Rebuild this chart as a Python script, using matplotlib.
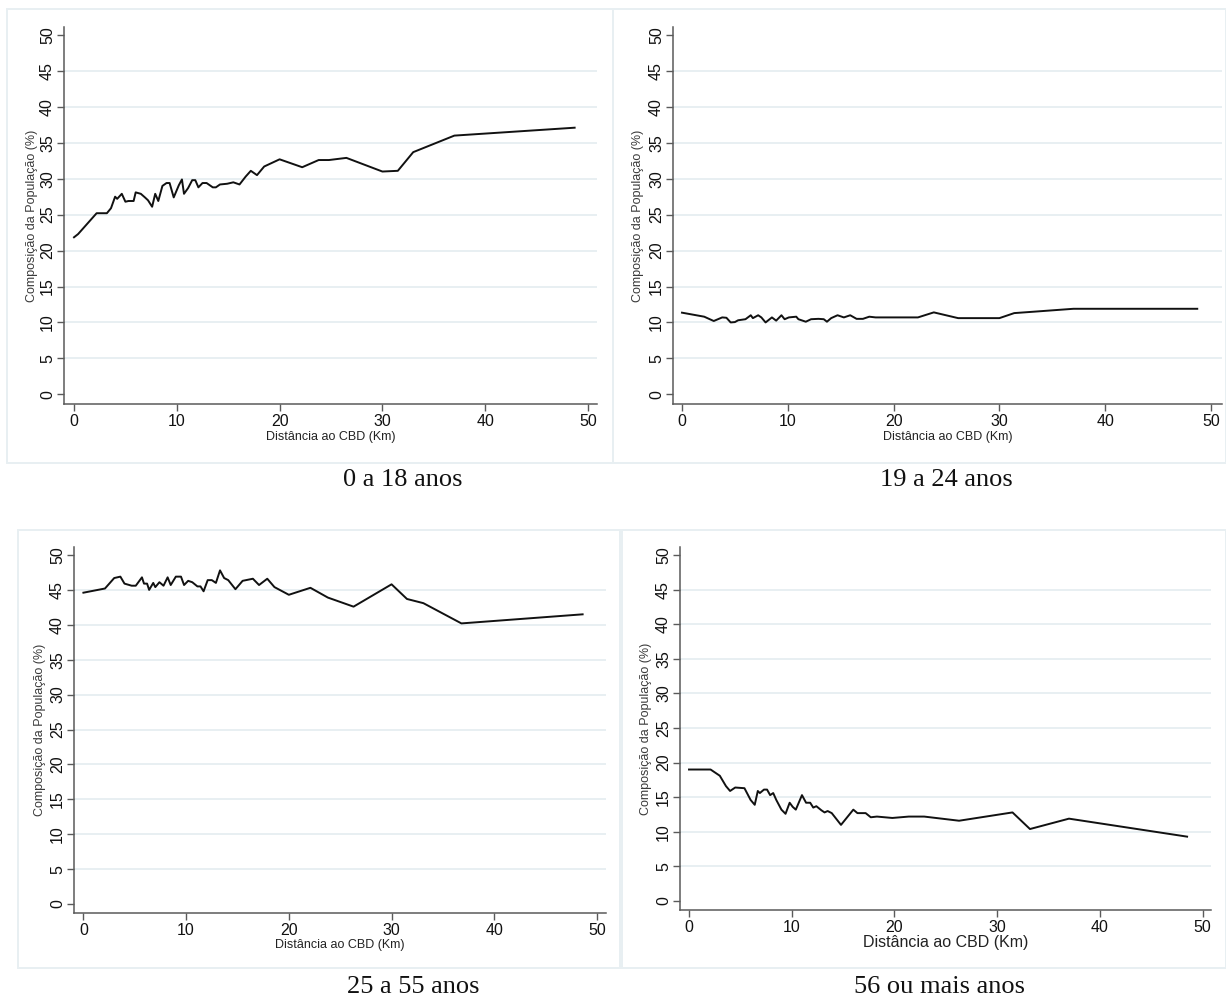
import matplotlib.pyplot as plt
from matplotlib.patches import Rectangle

# distance to CBD (km) and population share (%) per age group
dist_0_18 = [0, 0.4, 2.2, 3.2, 3.6, 4.0, 4.2, 4.65, 5.0, 5.3, 5.8, 6.0, 6.5, 6.9, 7.2, 7.6,
             7.9, 8.2, 8.6, 9.0, 9.3, 9.7, 10.2, 10.5, 10.7, 11.1, 11.5, 11.8, 12.1, 12.5,
             12.9, 13.5, 13.8, 14.2, 14.9, 15.5, 16.1, 16.7, 17.2, 17.8, 18.5, 20.0, 22.2,
             23.8, 24.8, 26.5, 30.0, 31.5, 33.0, 37.0, 48.7]
pct_0_18 = [21.85, 22.3, 25.2, 25.2, 25.9, 27.5, 27.2, 27.9, 26.8, 26.9, 26.9, 28.1, 27.9,
            27.4, 27.0, 26.1, 27.9, 26.9, 29.0, 29.4, 29.4, 27.4, 29.1, 29.9, 27.9, 28.7,
            29.8, 29.8, 28.8, 29.4, 29.4, 28.8, 28.8, 29.2, 29.3, 29.5, 29.2, 30.3, 31.1,
            30.5, 31.7, 32.7, 31.6, 32.6, 32.6, 32.9, 31.0, 31.1, 33.7, 36.0, 37.1]

dist_19_24 = [0, 2.1, 3.0, 3.8, 4.2, 4.6, 5.0, 5.3, 6.0, 6.5, 6.7, 7.2, 7.5, 7.9, 8.5, 8.9,
              9.4, 9.7, 10.1, 10.8, 11.0, 11.7, 12.2, 12.9, 13.4, 13.7, 14.1, 14.7, 15.3,
              15.9, 16.5, 17.1, 17.7, 18.3, 22.3, 23.8, 26.1, 30.0, 31.4, 33.3, 37.0, 48.7]
pct_19_24 = [11.36, 10.8, 10.2, 10.7, 10.65, 10.0, 10.05, 10.3, 10.45, 11.0, 10.6, 11.0,
             10.7, 10.0, 10.7, 10.25, 11.0, 10.45, 10.7, 10.8, 10.45, 10.1, 10.45, 10.5,
             10.45, 10.1, 10.6, 11.0, 10.7, 11.0, 10.5, 10.5, 10.8, 10.7, 10.7, 11.4, 10.6,
             10.6, 11.3, 11.5, 11.9, 11.9]

dist_25_55 = [0, 2.1, 3.0, 3.6, 4.0, 4.7, 5.1, 5.7, 5.9, 6.2, 6.4, 6.8, 7.0, 7.4, 7.8, 8.2,
              8.5, 9.0, 9.5, 9.8, 10.2, 10.6, 11.1, 11.4, 11.7, 12.1, 12.5, 12.9, 13.3,
              13.7, 14.1, 14.8, 15.5, 16.5, 17.1, 17.9, 18.6, 20.0, 22.1, 23.8, 26.3, 30.0,
              31.5, 33.1, 36.8, 48.6]
pct_25_55 = [44.6, 45.2, 46.7, 46.9, 45.9, 45.6, 45.6, 46.8, 45.9, 45.9, 45.0, 46.0, 45.4,
             46.1, 45.6, 46.8, 45.7, 46.9, 46.9, 45.7, 46.3, 46.1, 45.5, 45.5, 44.8, 46.4,
             46.4, 46.0, 47.8, 46.7, 46.4, 45.1, 46.3, 46.6, 45.7, 46.6, 45.4, 44.3, 45.3,
             43.9, 42.6, 45.8, 43.7, 43.1, 40.2, 41.5]

dist_56 = [0, 2.1, 3.0, 3.6, 4.0, 4.5, 5.4, 6.0, 6.4, 6.7, 6.9, 7.3, 7.6, 7.9, 8.2, 8.5, 9.0,
           9.4, 9.8, 10.1, 10.4, 11.0, 11.4, 11.8, 12.1, 12.4, 12.9, 13.2, 13.5, 13.9, 14.8,
           16.0, 16.4, 17.2, 17.7, 18.3, 19.8, 21.4, 22.9, 26.3, 31.5, 33.2, 37.0, 48.5]
pct_56 = [19.0, 19.0, 18.1, 16.6, 15.9, 16.4, 16.3, 14.6, 13.9, 15.9, 15.6, 16.1, 16.1, 15.3,
          15.6, 14.6, 13.2, 12.6, 14.2, 13.6, 13.2, 15.3, 14.2, 14.2, 13.5, 13.7, 13.1, 12.8,
          13.0, 12.7, 11.0, 13.2, 12.7, 12.7, 12.1, 12.2, 12.0, 12.2, 12.2, 11.6, 12.8, 10.4,
          11.9, 9.3]

captions = ["0 a 18 anos", "19 a 24 anos", "25 a 55 anos", "56 ou mais anos"]
yticks = list(range(0, 55, 5))
xticks = list(range(0, 60, 10))

W, H = 1226, 998
GRID = "#e6eef1"
FRAME = "#e8eff2"
AXIS = "#5a5a5a"

# pixel layout per panel: x=0/x=50 px, y=0/y=50 px, axis left, right, top, bottom,
# frame box, caption centre, y-label x, x-label y, x-label size
panels = [
    dict(x0=74, x50=588, y0=394.3, y50=35, left=64, right=597, top=27, bottom=404,
         frame=(7, 9, 613, 463), cap=(403, 480), ylab=32, xlab=437, xfs=9),
    dict(x0=682, x50=1211, y0=394.3, y50=35, left=673, right=1222, top=27, bottom=404,
         frame=(613, 9, 1226, 463), cap=(946, 480), ylab=638, xlab=437, xfs=9),
    dict(x0=83.4, x50=597, y0=904, y50=555, left=74, right=606, top=547, bottom=913,
         frame=(18, 530, 620, 968), cap=(413, 987), ylab=40, xlab=945, xfs=9),
    dict(x0=689, x50=1202.5, y0=901, y50=555, left=680, right=1211, top=547, bottom=910,
         frame=(622, 530, 1226, 968), cap=(940, 987), ylab=646, xlab=943, xfs=11.5),
]
series = [(dist_0_18, pct_0_18), (dist_19_24, pct_19_24),
          (dist_25_55, pct_25_55), (dist_56, pct_56)]

plt.rcParams["font.family"] = ["Liberation Sans", "DejaVu Sans"]
fig = plt.figure(figsize=(W / 100, H / 100), dpi=100)

for p, (xs, ys), cap in zip(panels, series, captions):
    fx0, fy0, fx1, fy1 = p["frame"]
    fig.patches.append(Rectangle((fx0 / W, 1 - fy1 / H), (fx1 - fx0) / W, (fy1 - fy0) / H,
                                 transform=fig.transFigure, fill=False,
                                 edgecolor=FRAME, linewidth=1.4))

    ax = fig.add_axes([p["left"] / W, 1 - p["bottom"] / H,
                       (p["right"] - p["left"]) / W, (p["bottom"] - p["top"]) / H])
    sx = (p["x50"] - p["x0"]) / 50
    sy = (p["y0"] - p["y50"]) / 50
    ax.set_xlim((p["left"] - p["x0"]) / sx, (p["right"] - p["x0"]) / sx)
    ax.set_ylim((p["y0"] - p["bottom"]) / sy, (p["y0"] - p["top"]) / sy)

    for v in yticks[1:-1]:
        ax.axhline(v, color=GRID, linewidth=1.3, zorder=0)
    ax.plot(xs, ys, color="#111111", linewidth=1.4, zorder=3)

    for s in ("top", "right"):
        ax.spines[s].set_visible(False)
    for s in ("left", "bottom"):
        ax.spines[s].set_color(AXIS)
        ax.spines[s].set_linewidth(1.1)

    ax.set_xticks(xticks)
    ax.set_yticks(yticks)
    ax.tick_params(axis="both", colors=AXIS, length=5, width=1.0, labelsize=11.5,
                   labelcolor="#111111")
    ax.tick_params(axis="x", pad=2)
    ax.tick_params(axis="y", pad=1.5, labelrotation=90)
    for lab in ax.get_yticklabels():
        lab.set_va("center")

    ax.set_ylabel("Composição da População (%)", fontsize=9, color="#3a3a3a", va="center")
    ax.yaxis.set_label_coords((p["ylab"] - p["left"]) / (p["right"] - p["left"]), 0.5)
    ax.set_xlabel("Distância ao CBD (Km)", fontsize=p["xfs"], color="#222222", va="center")
    ax.xaxis.set_label_coords(0.5, (p["bottom"] - p["xlab"]) / (p["bottom"] - p["top"]))

    fig.text(p["cap"][0] / W, 1 - p["cap"][1] / H, cap, ha="center", va="center",
             fontsize=19, family="Liberation Serif", color="#111111")

fig.savefig("out.png", dpi=100)
